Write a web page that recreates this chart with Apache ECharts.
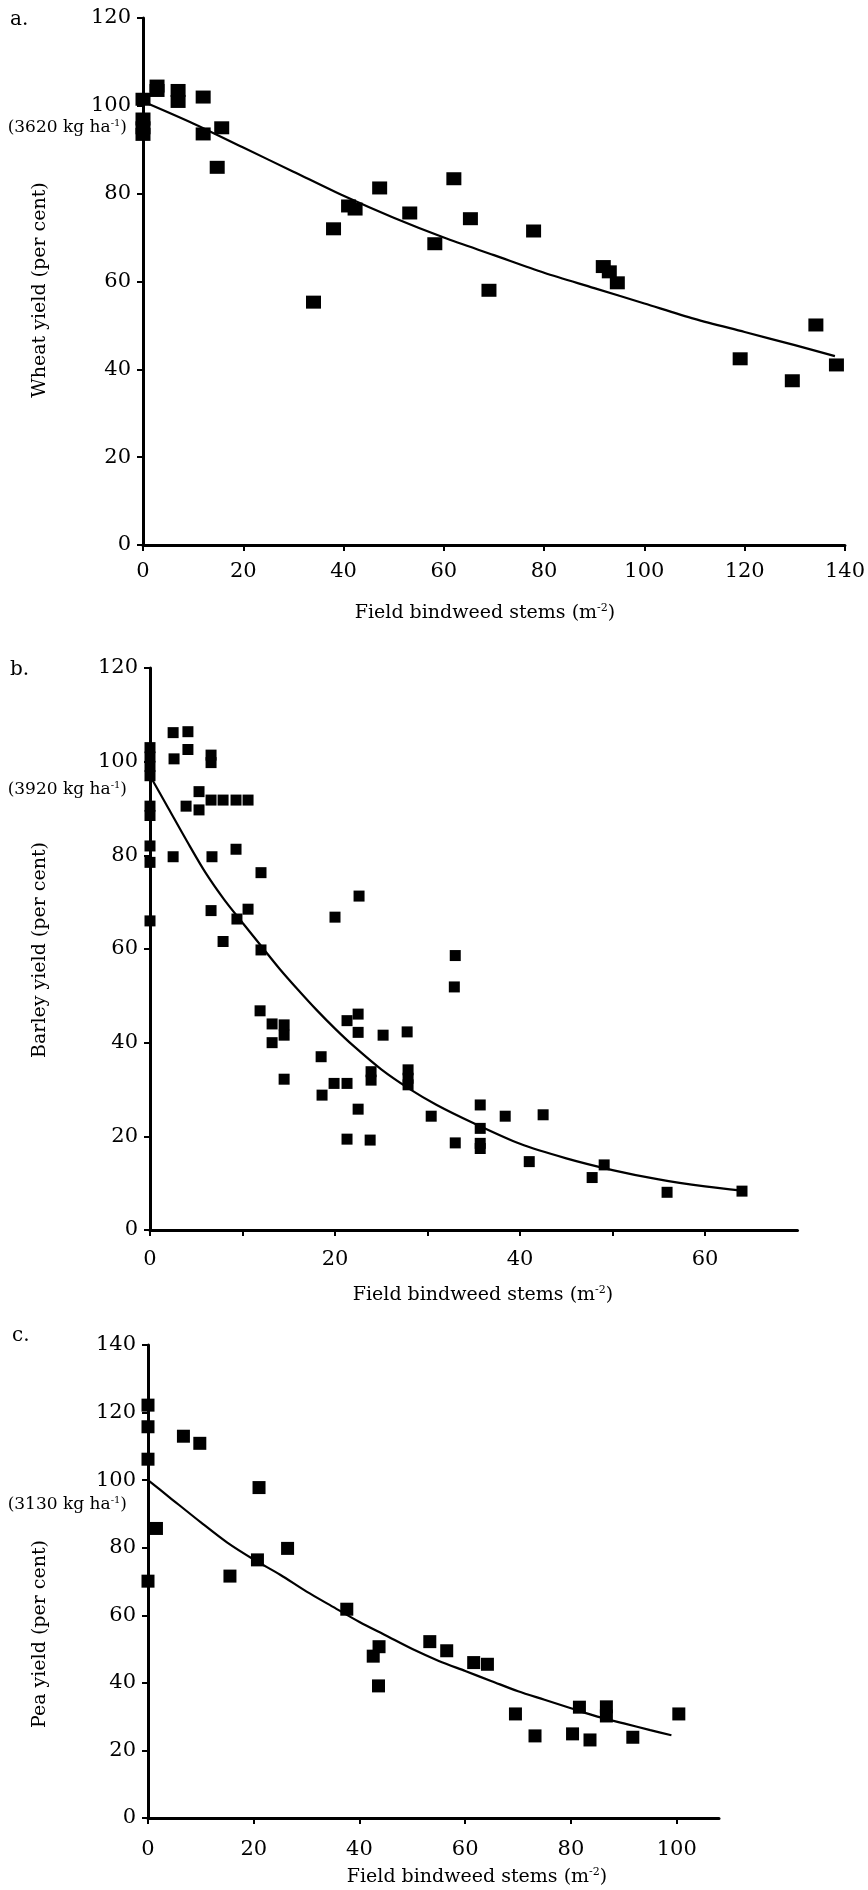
<!DOCTYPE html>
<html>
<head>
<meta charset="utf-8">
<script src="https://cdn.jsdelivr.net/npm/echarts@6/dist/echarts.min.js"></script>
<style>
  html, body { margin: 0; padding: 0; background: #fff; }
  #chart { width: 868px; height: 1890px; }
</style>
</head>
<body>
<div id="chart"></div>
<script>
// a. wheat
var wheatPoints = [
	[0, 101.5], [0, 97], [0, 95], [0, 93.5], [2.8, 104.5], [2.8, 103.5],
	[7, 103.5], [7, 101], [12, 102], [15.7, 95], [12, 93.6], [14.8, 86],
	[34, 55.3], [38, 72], [41, 77.2], [42.3, 76.5], [47.2, 81.3], [53.2, 75.6],
	[58.2, 68.6], [62, 83.4], [65.3, 74.3], [69, 58], [77.9, 71.5],
	[91.8, 63.4], [93, 62.2], [94.6, 59.7], [119.1, 42.4], [129.5, 37.4],
	[134.2, 50.1], [138.3, 41]
];
var wheatCurveX = [0, 10, 20, 30, 40, 50, 60, 70, 80, 90, 100, 110, 120, 130, 138];
var wheatCurveY = [101, 96, 90.5, 85, 79.5, 74.5, 70, 66, 62, 58.5, 55, 51.5, 48.5, 45.5, 43];

// b. barley
var barleyPoints = [
	[0, 103], [0, 101], [0, 99], [0, 97], [0, 90.5], [0, 88.5], [0, 82], [0, 78.5], [0, 66],
	[2.5, 106.2], [4.1, 106.4], [4.1, 102.6], [2.6, 100.6], [6.6, 101.4], [6.6, 99.8],
	[5.3, 93.6], [3.9, 90.5], [5.3, 89.7], [6.6, 91.8], [7.9, 91.8], [9.3, 91.8], [10.6, 91.8],
	[2.5, 79.7], [6.7, 79.7], [9.3, 81.3], [12, 76.3], [22.6, 71.3], [20, 66.8],
	[6.6, 68.2], [10.6, 68.5], [9.4, 66.4], [7.9, 61.6], [12, 59.8], [33, 58.6], [32.9, 51.9],
	[11.9, 46.8], [13.2, 44], [14.5, 43.8], [14.5, 41.6], [13.2, 40], [14.5, 32.2],
	[18.5, 37], [18.6, 28.8], [19.9, 31.3], [21.3, 31.3], [21.3, 44.7], [22.5, 46.1],
	[22.5, 42.2], [25.2, 41.6], [27.8, 42.3], [23.9, 33.8], [23.9, 32], [27.9, 34.2],
	[27.9, 32.4], [27.9, 31], [22.5, 25.8], [21.3, 19.4], [23.8, 19.2], [30.4, 24.3],
	[33, 18.6], [35.7, 26.7], [35.7, 21.7], [35.7, 18.5], [35.7, 17.4], [38.4, 24.3],
	[42.5, 24.6], [41, 14.6], [47.8, 11.2], [49.1, 13.9], [55.9, 8.05], [64, 8.3]
];
var barleyCurveX = [0, 2, 4, 6, 8, 10, 12, 14, 16, 18, 20, 22, 25, 28, 31, 35, 40, 45, 50, 55, 60, 64];
var barleyCurveY = [97, 90, 83, 76.3, 70.6, 65.6, 60.7, 55.8, 51.3, 47, 43, 39.3, 34.3, 30.2, 26.7, 22.8, 18.4, 15.3, 12.8, 10.8, 9.3, 8.4];

// c. pea
var peaPoints = [
	[0, 122.2], [0, 115.8], [0, 106.2], [0, 70.1], [1.6, 85.7], [6.7, 113], [9.8, 110.9],
	[21, 97.8], [15.5, 71.6], [20.7, 76.4], [26.4, 79.8], [37.6, 61.8], [43.7, 50.7],
	[42.6, 47.9], [53.3, 52.2], [56.5, 49.5], [61.6, 46], [64.2, 45.5], [43.6, 39.1],
	[69.5, 30.8], [73.2, 24.3], [80.3, 24.9], [83.6, 23.1], [81.6, 32.8], [86.7, 32.9],
	[86.7, 30.2], [91.7, 23.9], [100.4, 30.8]
];
var peaCurveX = [0, 4, 10, 15, 20, 25, 30, 35, 40, 45, 50, 55, 60, 65, 70, 75, 80, 85, 90, 95, 99];
var peaCurveY = [100, 95, 87.5, 81.5, 76.5, 72, 67, 62.5, 58, 54, 50, 46.5, 43.5, 40.5, 37.5, 35, 32.5, 30, 28, 26, 24.5];

var FONT = 'DejaVu Serif';

function pairs(xs, ys) {
	var out = [];
	for (var i = 0; i < xs.length; i++) out.push([xs[i], ys[i]]);
	return out;
}

function xAxisOf(idx, max, interval, labelStep, margin) {
	return {
		type: 'value', gridIndex: idx, min: 0, max: max, interval: interval,
		axisLine: { show: true, onZero: false, lineStyle: { color: '#000', width: 3 } },
		axisTick: { show: true, length: 6, lineStyle: { color: '#000', width: 2 } },
		splitLine: { show: false },
		axisLabel: {
			color: '#000', fontFamily: FONT, fontSize: 21, margin: margin, showMaxLabel: max % labelStep === 0,
			formatter: function (v) { return v % labelStep === 0 ? v : ''; }
		}
	};
}

function yAxisOf(idx, max) {
	return {
		type: 'value', gridIndex: idx, min: 0, max: max, interval: 20,
		axisLine: { show: true, onZero: false, lineStyle: { color: '#000', width: 3 } },
		axisTick: { show: true, length: 6, lineStyle: { color: '#000', width: 2 } },
		splitLine: { show: false },
		axisLabel: { color: '#000', fontFamily: FONT, fontSize: 21, margin: 12 }
	};
}

function scatterOf(idx, data, size) {
	return {
		type: 'scatter', xAxisIndex: idx, yAxisIndex: idx, data: data,
		symbol: 'rect', symbolSize: size, itemStyle: { color: '#000', opacity: 1 }, clip: false, z: 3
	};
}

function curveOf(idx, data) {
	return {
		type: 'line', xAxisIndex: idx, yAxisIndex: idx, data: data, smooth: 0.3,
		showSymbol: false, lineStyle: { color: '#000', width: 2.2 }, z: 4
	};
}

function label(x, y, text, size) {
	return {
		type: 'text', left: x, top: y,
		style: { text: text, fill: '#000', font: size + 'px "' + FONT + '"' }
	};
}

function yield0(x, y, kg) {
	return {
		type: 'text', x: x, y: y,
		style: {
			text: '{n|(' + kg + ' kg ha}{s|-1}{n|)}', align: 'right', verticalAlign: 'middle',
			rich: {
				n: { fontFamily: FONT, fontSize: 17, fill: '#000' },
				s: { fontFamily: FONT, fontSize: 10, fill: '#000', padding: [0, 0, 9, 0] }
			}
		}
	};
}

function xTitle(cx, cy) {
	return {
		type: 'text', x: cx, y: cy,
		style: {
			text: '{n|Field bindweed stems (m}{s|-2}{n|)}', align: 'center', verticalAlign: 'middle',
			rich: {
				n: { fontFamily: FONT, fontSize: 19, fill: '#000' },
				s: { fontFamily: FONT, fontSize: 11, fill: '#000', padding: [0, 0, 10, 0] }
			}
		}
	};
}

function yTitle(cx, cy, text) {
	return {
		type: 'text', x: cx, y: cy, rotation: Math.PI / 2,
		style: { text: text, fill: '#000', font: '19px "' + FONT + '"', align: 'center', verticalAlign: 'middle' }
	};
}

var chart = echarts.init(document.getElementById('chart'));
chart.setOption({
	backgroundColor: '#fff',
	animation: false,
	grid: [
		{ left: 143, top: 18, width: 703, height: 527 },
		{ left: 150, top: 668, width: 647.5, height: 562 },
		{ left: 148, top: 1345, width: 571, height: 473 }
	],
	xAxis: [xAxisOf(0, 140, 20, 20, 16), xAxisOf(1, 70, 10, 20, 19), xAxisOf(2, 108, 20, 20, 21)],
	yAxis: [yAxisOf(0, 120), yAxisOf(1, 120), yAxisOf(2, 140)],
	series: [
		scatterOf(0, wheatPoints, [15, 13]),
		curveOf(0, pairs(wheatCurveX, wheatCurveY)),
		scatterOf(1, barleyPoints, [11, 11]),
		curveOf(1, pairs(barleyCurveX, barleyCurveY)),
		scatterOf(2, peaPoints, [13, 13]),
		curveOf(2, pairs(peaCurveX, peaCurveY))
	],
	graphic: [
		label(10, 10, 'a.', 20), label(10, 660, 'b.', 20), label(12, 1326, 'c.', 20),
		yield0(127, 128, '3620'), yield0(127, 790, '3920'), yield0(127, 1505, '3130'),
		xTitle(485, 613), xTitle(483, 1295), xTitle(477, 1877),
		yTitle(40, 290, 'Wheat yield (per cent)'),
		yTitle(40, 950, 'Barley yield (per cent)'),
		yTitle(40, 1634, 'Pea yield (per cent)')
	]
});
</script>
</body>
</html>
